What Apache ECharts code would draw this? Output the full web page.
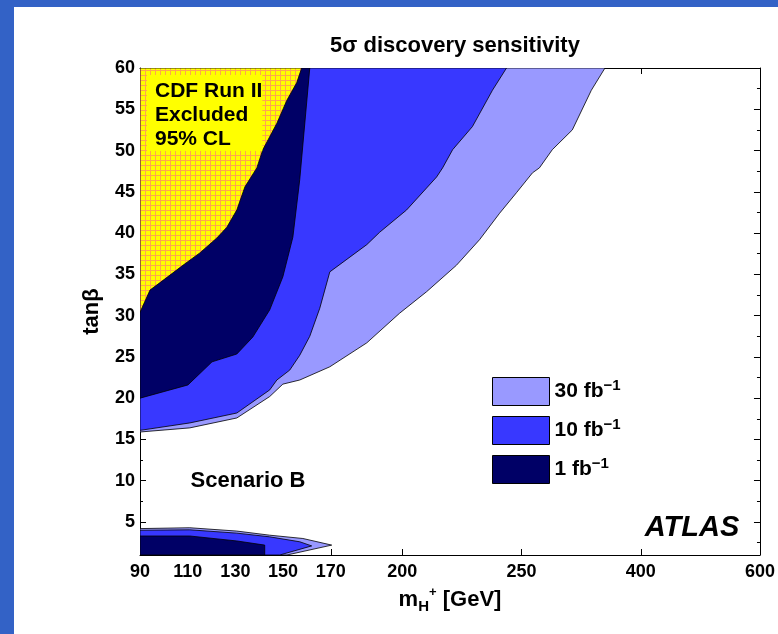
<!DOCTYPE html>
<html><head><meta charset="utf-8">
<script src="https://cdn.jsdelivr.net/npm/echarts@6/dist/echarts.min.js"></script>
<style>
html,body{margin:0;padding:0;background:#fff;}
#wrap{position:relative;width:778px;height:634px;overflow:hidden;background:#fff;}
#bandTop{position:absolute;left:0;top:0;width:778px;height:7px;background:#3362c6;}
#bandLeft{position:absolute;left:0;top:0;width:14px;height:634px;background:#3362c6;}
#chart{position:absolute;left:0;top:0;width:778px;height:634px;}
</style></head>
<body><div id="wrap"><div id="bandTop"></div><div id="bandLeft"></div><div id="chart"></div></div>
<script>
// ---- tick labels ----
const xTickMass = [90, 110, 130, 150, 170, 200, 250, 400, 600];
const yTicks = [5, 10, 15, 20, 25, 30, 35, 40, 45, 50, 55, 60];
const yMinorTicks = [2.5, 7.5, 12.5, 17.5, 22.5, 27.5, 32.5, 37.5, 42.5, 47.5, 52.5, 57.5];
const lumiNames = ['30', '10', '1'];

// ---- 30 fb-1 : high tan(beta) region boundary ----
const hi30Mass = [90, 110.9, 130.6, 144.4, 149.9, 157.0, 169.6, 185.1, 198.9, 210.2, 222.7, 232.4, 240.8, 247.9, 263.8, 272.5, 288.7, 313.9, 337.8, 355];
const hi30Tan  = [15.9, 16.4, 17.6, 20.2, 21.7, 22.2, 23.8, 26.7, 30.3, 32.9, 36.1, 39.2, 42.4, 44.9, 47.3, 47.9, 50.1, 52.5, 57.3, 60];
// ---- 10 fb-1 ----
const hi10Mass = [90, 110.9, 130.6, 144.4, 147.4, 152.8, 157.0, 161.2, 165.4, 169.6, 185.1, 190.5, 201.8, 214.4, 216.9, 221.1, 229.4, 237.8, 243.7];
const hi10Tan  = [16.1, 17.0, 18.2, 21.0, 22.2, 23.4, 25.2, 27.5, 30.9, 35.3, 38.6, 40.1, 42.8, 46.8, 47.9, 50.1, 52.9, 57.3, 60];
// ---- 1 fb-1 ----
const hi1Mass = [90, 110.1, 120.2, 130.6, 137.3, 144.4, 149.9, 154.1, 157.0, 161.2];
const hi1Tan  = [20.0, 21.6, 24.4, 25.35, 27.4, 30.7, 34.7, 39.5, 46.5, 60];
// ---- CDF Run II excluded ----
const cdfMass = [90, 94.2, 98.4, 108.0, 115.1, 122.2, 126.4, 130.6, 134.0, 139.0, 141.5, 147.4, 151.6, 155.7, 157.8];
const cdfTan  = [30.4, 33.1, 34.0, 36.1, 37.6, 39.4, 40.7, 42.8, 45.6, 47.9, 50.1, 53.3, 56.1, 58.2, 60];
// ---- low tan(beta) regions ----
const lo30Mass = [90, 110.9, 130.6, 144.4, 158.3, 170.4, 151.6];
const lo30Tan  = [4.2, 4.3, 3.9, 3.4, 3.0, 2.2, 1.0];
const lo10Mass = [90, 110.9, 130.6, 144.4, 157.0, 162.0, 148.6];
const lo10Tan  = [4.0, 4.05, 3.65, 3.2, 2.6, 2.1, 1.0];
const lo1Mass  = [90, 110.9, 130.6, 142.3, 142.3];
const lo1Tan   = [3.3, 3.3, 2.7, 2.2, 1.0];

// axis: linear to 250 GeV, compressed beyond
function toAxis(m) {
  if (m <= 250) return m;
  if (m <= 400) return 250 + (m - 250) / 3;
  return 300 + (m - 400) / 4;
}
const xTickPos = xTickMass.map(toAxis);
const X_MIN = toAxis(90), X_MAX = toAxis(600), Y_MIN = 1, Y_MAX = 60;

const FONT = 'Liberation Sans, Arial, Helvetica, sans-serif';
const C30 = '#9999ff', C10 = '#3838ff', C1 = '#000066';

// hatched yellow pattern
const pc = document.createElement('canvas');
pc.width = 5; pc.height = 5;
const pctx = pc.getContext('2d');
pctx.fillStyle = '#ffff00'; pctx.fillRect(0, 0, 5, 5);
pctx.fillStyle = '#ffa64d';
pctx.fillRect(0, 0, 1, 5); pctx.fillRect(0, 0, 5, 1);
const yellowPattern = { image: pc, repeat: 'repeat' };

function polySeries(name, polys, fill, z) {
  return {
    type: 'custom', name: name, coordinateSystem: 'cartesian2d', z: z,
    itemStyle: { color: typeof fill === 'string' ? fill : '#ffff00', borderColor: '#000', borderWidth: 1 },
    data: polys.map(p => [toAxis(p.mass[0]), p.tan[0]]),
    clip: true, silent: true,
    renderItem: function (params, api) {
      const p = polys[params.dataIndex];
      const pts = p.mass.map((m, i) => api.coord([toAxis(m), p.tan[i]]));
      pts.push(api.coord([X_MIN, p.top ? Y_MAX : Y_MIN]));
      return { type: 'polygon', shape: { points: pts }, style: { fill: fill, stroke: '#000', lineWidth: 0.8 } };
    }
  };
}

const chart = echarts.init(document.getElementById('chart'), null, { renderer: 'canvas' });
const tickStyle = { color: '#000', width: 1 };
const option = {
  backgroundColor: 'transparent',
  animation: false,
  title: {
    text: '5σ discovery sensitivity', left: 450, top: 30, textAlign: 'center',
    textStyle: { fontFamily: FONT, fontWeight: 'bold', fontSize: 22, color: '#000' }
  },
  grid: { left: 140, right: 17, top: 68, bottom: 79, containLabel: false },
  legend: {
    orient: 'vertical', left: 492, top: 377, padding: 0, itemWidth: 57, itemHeight: 28, itemGap: 10,
    icon: 'rect', selectedMode: false,
    data: lumiNames.map((n, i) => ({ name: n, itemStyle: { color: [C30, C10, C1][i], borderColor: '#000', borderWidth: 1 } })),
    formatter: n => '{a|' + n + ' fb}{s|−1}',
    textStyle: {
      fontFamily: FONT, fontWeight: 'bold', fontSize: 21, color: '#000',
      rich: {
        a: { fontFamily: FONT, fontWeight: 'bold', fontSize: 21, lineHeight: 26, color: '#000' },
        s: { fontFamily: FONT, fontWeight: 'bold', fontSize: 15, lineHeight: 10, verticalAlign: 'top', color: '#000' }
      }
    }
  },
  xAxis: [{
    type: 'value', min: X_MIN, max: X_MAX, position: 'bottom',
    axisLine: { show: true, onZero: false, lineStyle: tickStyle },
    axisTick: { show: true, inside: true, length: 6, customValues: xTickPos, lineStyle: tickStyle },
    axisLabel: {
      customValues: xTickPos, margin: 8, fontFamily: FONT, fontWeight: 'bold', fontSize: 18, color: '#000',
      formatter: v => { const i = xTickPos.findIndex(p => Math.abs(p - v) < 1e-6); return i >= 0 ? String(xTickMass[i]) : ''; }
    },
    splitLine: { show: false },
    name: '{m|m}{h|H}{p|+}{g| [GeV]}', nameLocation: 'middle', nameGap: 30,
    nameTextStyle: {
      fontFamily: FONT, fontWeight: 'bold', fontSize: 22, color: '#000',
      rich: {
        m: { fontFamily: FONT, fontWeight: 'bold', fontSize: 22, lineHeight: 28, color: '#000' },
        h: { fontFamily: FONT, fontWeight: 'bold', fontSize: 15, lineHeight: 13, verticalAlign: 'bottom', color: '#000' },
        p: { fontFamily: FONT, fontWeight: 'bold', fontSize: 13, lineHeight: 26, verticalAlign: 'top', color: '#000' },
        g: { fontFamily: FONT, fontWeight: 'bold', fontSize: 22, lineHeight: 28, color: '#000' }
      }
    }
  }, {
    type: 'value', min: X_MIN, max: X_MAX, position: 'top',
    axisLine: { show: true, onZero: false, lineStyle: tickStyle },
    axisTick: { show: true, inside: true, length: 6, customValues: xTickPos, lineStyle: tickStyle },
    axisLabel: { show: false }, splitLine: { show: false }
  }],
  yAxis: [{
    type: 'value', min: Y_MIN, max: Y_MAX, position: 'left',
    axisLine: { show: true, onZero: false, lineStyle: tickStyle },
    axisTick: { show: true, inside: true, length: 6, customValues: yTicks, lineStyle: tickStyle },
    axisLabel: { customValues: yTicks, margin: 5, fontFamily: FONT, fontWeight: 'bold', fontSize: 18, color: '#000' },
    splitLine: { show: false },
    name: 'tanβ', nameLocation: 'middle', nameRotate: 90, nameGap: 37,
    nameTextStyle: { fontFamily: FONT, fontWeight: 'bold', fontSize: 22, color: '#000' }
  }, {
    type: 'value', min: Y_MIN, max: Y_MAX, position: 'right',
    axisLine: { show: true, onZero: false, lineStyle: tickStyle },
    axisTick: { show: true, inside: true, length: 6, customValues: yTicks, lineStyle: tickStyle },
    axisLabel: { show: false }, splitLine: { show: false }
  }, {
    type: 'value', min: Y_MIN, max: Y_MAX, position: 'left',
    axisLine: { show: false },
    axisTick: { show: true, inside: true, length: 3, customValues: yMinorTicks, lineStyle: tickStyle },
    axisLabel: { show: false }, splitLine: { show: false }
  }, {
    type: 'value', min: Y_MIN, max: Y_MAX, position: 'right',
    axisLine: { show: false },
    axisTick: { show: true, inside: true, length: 3, customValues: yMinorTicks, lineStyle: tickStyle },
    axisLabel: { show: false }, splitLine: { show: false }
  }],
  graphic: [
    { type: 'text', left: 147, top: 75, z: 100,
      style: { text: 'CDF Run II\nExcluded\n95% CL', font: 'bold 21px ' + FONT, fill: '#000', lineHeight: 24,
               backgroundColor: '#ffff00', padding: [4, 0, 0, 8] } },
    { type: 'text', x: 248, y: 481, z: 100,
      style: { text: 'Scenario B', font: 'bold 22px ' + FONT, fill: '#000', align: 'center', verticalAlign: 'middle' } },
    { type: 'text', x: 692, y: 528, z: 100,
      style: { text: 'ATLAS', font: 'italic bold 29px ' + FONT, fill: '#000', align: 'center', verticalAlign: 'middle' } }
  ],
  series: [
    polySeries('30', [{ mass: hi30Mass, tan: hi30Tan, top: true }, { mass: lo30Mass, tan: lo30Tan, top: false }], C30, 2),
    polySeries('10', [{ mass: hi10Mass, tan: hi10Tan, top: true }, { mass: lo10Mass, tan: lo10Tan, top: false }], C10, 3),
    polySeries('1', [{ mass: hi1Mass, tan: hi1Tan, top: true }, { mass: lo1Mass, tan: lo1Tan, top: false }], C1, 4),
    polySeries('CDF', [{ mass: cdfMass, tan: cdfTan, top: true }], yellowPattern, 5)
  ]
};
chart.setOption(option);
</script></body></html>
